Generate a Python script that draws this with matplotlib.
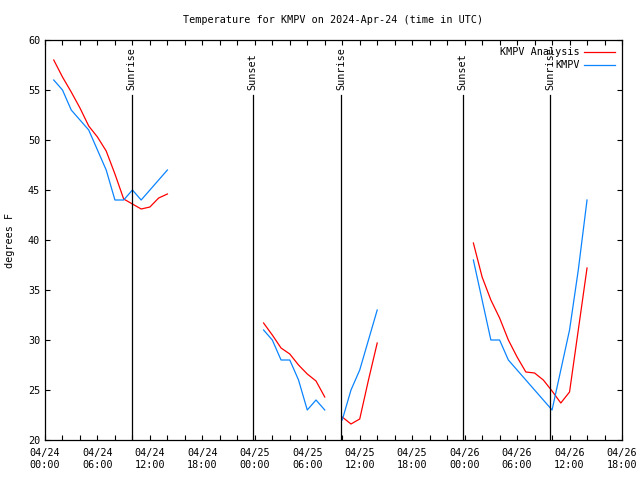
import matplotlib
matplotlib.use('Agg')
import matplotlib.pyplot as plt
import matplotlib.dates as mdates
import pandas as pd
import numpy as np

# data (hourly, UTC)
seg_start = ['2024-04-24 01:00', '2024-04-25 01:00', '2024-04-25 10:00', '2024-04-26 01:00']
kmpv_obs = [
    [56, 55, 53, 52, 51, 49, 47, 44, 44, 45, 44, 45, 46, 47],
    [31, 30, 28, 28, 26, 23, 24, 23],
    [22, 25, 27, 30, 33],
    [38, 34, 30, 30, 28, 27, 26, 25, 24, 23, 27, 31, 37, 44],
]
kmpv_anl = [
    [58.0, 56.3, 54.8, 53.2, 51.4, 50.3, 48.9, 46.6, 44.1, 43.6, 43.1, 43.3, 44.2, 44.6],
    [31.7, 30.5, 29.2, 28.6, 27.5, 26.6, 25.9, 24.3],
    [22.3, 21.6, 22.1, 26.0, 29.7],
    [39.7, 36.3, 34.0, 32.2, 30.0, 28.3, 26.8, 26.7, 26.0, 24.9, 23.7, 24.8, 31.0, 37.2],
]
sun_times = ['2024-04-24 09:56', '2024-04-24 23:45', '2024-04-25 09:54',
             '2024-04-25 23:47', '2024-04-26 09:48']
sun_labels = ['Sunrise', 'Sunset', 'Sunrise', 'Sunset', 'Sunrise']

FONT = 'DejaVu Sans Mono'
FS = 7.3
plt.rcParams['font.family'] = FONT
plt.rcParams['font.size'] = FS

fig = plt.figure(figsize=(6.4, 4.8), dpi=100)
ax = fig.add_axes([45/640, 40/480, 577/640, 400/480])


def build(series):
    xs, ys = [], []
    for start, vals in zip(seg_start, series):
        t = pd.date_range(start, periods=len(vals), freq='h')
        xs.extend(list(t) + [t[-1] + pd.Timedelta(minutes=30)])
        ys.extend(list(vals) + [np.nan])
    return xs, ys


x, y = build(kmpv_anl)
ax.plot(x, y, color='#ff0000', lw=0.9, label='KMPV Analysis')
x, y = build(kmpv_obs)
ax.plot(x, y, color='#0a84ff', lw=0.9, label='KMPV')

# sunrise / sunset markers
for t, lab in zip(sun_times, sun_labels):
    tt = pd.Timestamp(t)
    ax.plot([tt, tt], [20, 54.5], color='k', lw=0.9)
    ax.text(tt, 55.0, lab, rotation=90, ha='center', va='bottom', fontsize=FS)

ax.set_xlim(pd.Timestamp('2024-04-24 00:00'), pd.Timestamp('2024-04-26 18:00'))
ax.set_ylim(20, 60)
ax.set_yticks(np.arange(20, 61, 5))
ax.xaxis.set_major_locator(mdates.HourLocator(byhour=[0, 6, 12, 18]))
ax.xaxis.set_minor_locator(mdates.HourLocator(interval=2))
ax.xaxis.set_major_formatter(mdates.DateFormatter('%m/%d\n%H:%M'))
ax.tick_params(which='both', direction='in', top=True, right=True,
               length=3.5, width=0.8, labelsize=FS)
ax.tick_params(axis='x', pad=6)
for s in ax.spines.values():
    s.set_linewidth(0.9)

ax.set_title('Temperature for KMPV on 2024-Apr-24 (time in UTC)', fontsize=FS, pad=12)
ax.set_ylabel('degrees F', fontsize=FS, labelpad=9)

leg = ax.legend(loc='upper right', frameon=False, fontsize=FS, handlelength=3.0,
                markerfirst=False, borderaxespad=0.3, labelspacing=0.3,
                handletextpad=0.5)
for t in leg.get_texts():
    t.set_ha('right')

fig.savefig('out.png', dpi=100)
